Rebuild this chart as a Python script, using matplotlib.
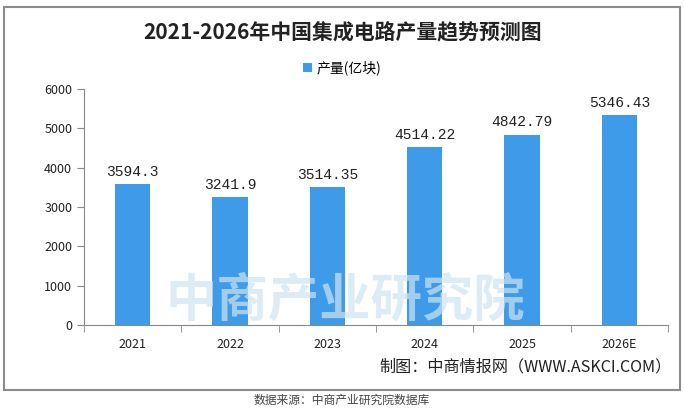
import numpy as np
import matplotlib.pyplot as plt
from matplotlib.patches import Rectangle

plt.rcParams['font.family'] = ['Noto Sans CJK SC', 'DejaVu Sans']

years = ['2021', '2022', '2023', '2024', '2025', '2026E']
output = [3594.3, 3241.9, 3514.35, 4514.22, 4842.79, 5346.43]
labels = ['3594.3', '3241.9', '3514.35', '4514.22', '4842.79', '5346.43']

fig = plt.figure(figsize=(6.84, 4.08), dpi=100)
W, H = 684.0, 408.0

# outer frame
fig.patches.append(Rectangle((4/W, 1-390/H), 676/W, 383/H, transform=fig.transFigure,
                             fill=False, edgecolor='#8c8c8c', lw=1.5, zorder=0))

ax = fig.add_axes([84/W, 1-325/H, 584/W, 236/H])
x = np.arange(len(years))

# watermark
fig.text(345/W, 1-300/H, '中商产业研究院', fontsize=37, color='#cfe3f0', alpha=0.7,
         ha='center', va='center', zorder=0, fontweight='bold')

ax.bar(x, output, width=0.36, color='#3d9be9', zorder=2, label='产量(亿块)')
for i in range(len(x)):
    ax.text(x[i], output[i] + 130, labels[i], ha='center', va='bottom',
            fontsize=10.5, family=['Liberation Mono', 'DejaVu Sans Mono'], color='#222222')

ax.set_xlim(-0.5, 5.5)
ax.set_ylim(0, 6000)
ax.set_yticks(np.arange(0, 6001, 1000))
ax.set_xticks(x)
ax.set_xticklabels(years)
ax.set_xticks(np.arange(-0.5, 6, 1), minor=True)
ax.tick_params(axis='x', which='major', length=0, labelsize=9, pad=9, colors='#222222')
ax.tick_params(axis='x', which='minor', length=5, color='#888888')
ax.tick_params(axis='y', length=5, color='#888888', labelsize=9, colors='#222222')
for s in ['top', 'right']:
    ax.spines[s].set_visible(False)
for s in ['left', 'bottom']:
    ax.spines[s].set_color('#888888')
ax.patch.set_alpha(0)

fig.text(343/W, 1-33/H, '2021-2026年中国集成电路产量趋势预测图', ha='center', va='center',
         fontsize=15, fontweight='bold', color='#222222')
leg = fig.legend(loc='center', bbox_to_anchor=(342/W, 1-68/H), frameon=False, fontsize=10,
                 handlelength=0.7, handleheight=0.7, handletextpad=0.3)

fig.text(672/W, 1-367/H, '制图：中商情报网（WWW.ASKCI.COM）', ha='right', va='center',
         fontsize=11.6, color='#222222')
fig.text(342/W, 1-400/H, '数据来源：中商产业研究院数据库', ha='center', va='center',
         fontsize=8.5, color='#444444')

fig.savefig('out.png', dpi=100)
